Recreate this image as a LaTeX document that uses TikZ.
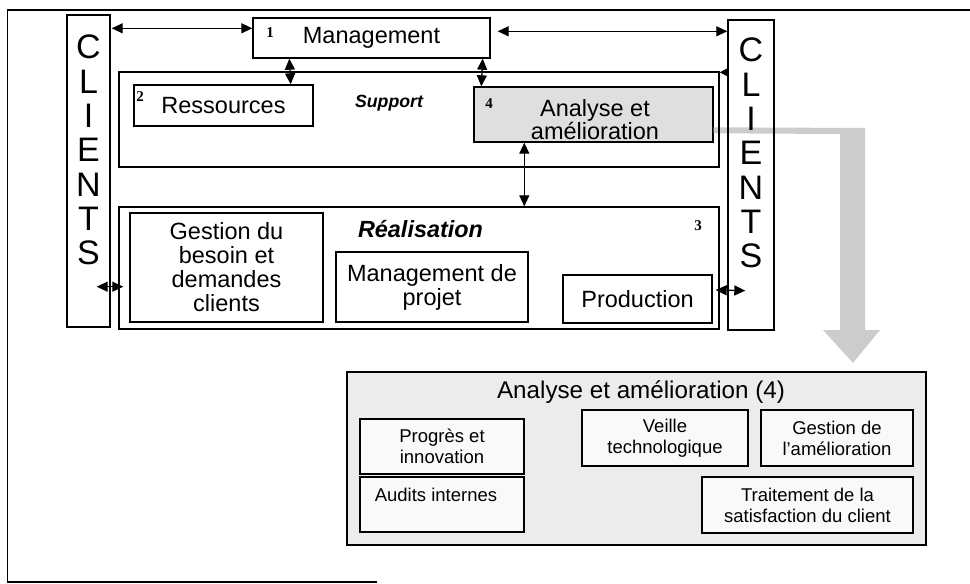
\documentclass[tikz,border=0pt]{standalone}
\usepackage{fontspec}
\setmainfont{Liberation Sans}
\newfontfamily\numfont{Liberation Serif}
\usetikzlibrary{arrows.meta,calc}
\begin{document}
\begin{tikzpicture}[x=1pt,y=-1pt,
  box/.style={draw,line width=1.4pt,inner sep=0pt,align=center},
  sz/.style 2 args={minimum width=#1pt,minimum height=#2pt},
  big/.style={font=\fontsize{23.5}{24}\selectfont},
  small/.style={font=\fontsize{18.5}{21}\selectfont},
  num/.style={font=\numfont\bfseries\fontsize{15}{15}\selectfont,inner sep=0pt},
  dbl/.style={line width=1.3pt,{Triangle[length=11pt,width=10pt]}-{Triangle[length=11pt,width=10pt]}},
  sgl/.style={line width=1.3pt,-{Triangle[length=9pt,width=9pt]}},
  letters/.style={font=\fontsize{34}{34.3}\selectfont,align=center,inner sep=0pt}
]
\useasboundingbox (0,0) rectangle (970,584);
% outer frame
\draw[line width=1.5pt] (377,582.2) -- (7.5,582.2) -- (7.5,10) -- (970,10);

% analysis box inside support (drawn first so the grey arrow starts at its edge)
\node[box,sz={239}{55},fill=gray!25] (ana) at (593.5,114.5) {};
% grey block arrow from analysis box to detail box
\fill[gray!40] ([yshift=-41pt]ana.north east) -- (865,128) -- (865,330) -- (880,330) -- (853,363)
  -- (823,330) -- (840,330) -- (840,134) -- ([yshift=-47pt]ana.north east) -- cycle;

\node[box,sz={43}{312}] (cl) at (88.5,171) {};
\node[letters] (cltxt) at (88.5,150) {C\\L\\I\\E\\N\\T\\S};
\node[box,sz={46}{310}] (cr) at (751,175) {};
\node[letters] (crtxt) at (751,153) {C\\L\\I\\E\\N\\T\\S};

\node[box,big,sz={237}{40}] (mgmt) at (371.5,38) {Management};
\node[num] (n1) at (270,33) {1};

\node[box,sz={600}{95}] (sup) at (419,119.5) {};
\node[font=\bfseries\itshape\fontsize{17.7}{18}\selectfont] (suptxt) at (389,103) {Support};
\node[box,big,sz={179}{41}] (res) at (223.5,105.5) {Ressources};
\node[num] (n2) at (140,97) {2};
\node[align=center,inner sep=0pt,font=\fontsize{23.5}{23}\selectfont] (anatxt) at (595,119.5) {Analyse et\\amélioration};
\node[num] (n4) at (489,104) {4};

\node[box,sz={600}{122}] (real) at (419,268) {};
\node[font=\bfseries\itshape\fontsize{23.4}{24}\selectfont] (realtxt) at (420.5,229) {Réalisation};
\node[num] (n3) at (698,226) {3};
\node[box,big,sz={193}{109}] (gest) at (226.5,267.5) {Gestion du\\besoin et\\demandes\\clients};
\node[box,big,sz={192}{70}] (mproj) at (432,287) {Management de\\projet};
\node[box,big,sz={149}{48}] (prod) at (637.5,299) {Production};

% detail box
\node[box,fill=gray!15,sz={579}{173}] (aa) at (636.5,458.5) {};
\node[font=\fontsize{24.2}{25}\selectfont,inner sep=0pt] (aatxt) at (641,392) {Analyse et amélioration (4)};
\node[box,small,fill=gray!5,sz={164}{55}] (prog) at (442,446.5) {Progrès et\\innovation};
\node[box,fill=gray!5,sz={164}{55}] (aud) at (442,504.5) {};
\node[small,inner sep=0pt] (audtxt) at (436,495) {Audits internes};
\node[box,small,fill=gray!5,sz={166}{56}] (veil) at (665,438) {Veille\\technologique};
\node[box,small,fill=gray!5,sz={152}{56}] (gam) at (837,438) {Gestion de\\l'amélioration};
\node[box,small,fill=gray!5,sz={211}{56}] (trait) at (807.5,505) {Traitement de la\\satisfaction du client};

% connectors
\draw[dbl] ([xshift=1pt,yshift=-14pt]cl.north east) -- ([yshift=-11pt]mgmt.north west);
\draw[dbl] ([xshift=7pt,yshift=-14pt]mgmt.north east) -- ([yshift=-12pt]cr.north west);
\draw[dbl] ([xshift=37pt]mgmt.south west) -- ([xshift=-23pt]res.north east);
\draw[dbl] ([xshift=-8pt]mgmt.south east) -- ([xshift=8pt]ana.north west);
\draw[dbl] ([xshift=51pt]ana.south west) -- ([xshift=406pt]real.north west);
\draw[sgl] ([yshift=-53pt]cr.north west) -- ([yshift=-1pt]sup.north east);
\draw[dbl] ([xshift=-14pt,yshift=41pt]cl.south east) -- ([xshift=5pt,yshift=43pt]real.south west);
\draw[dbl] ([xshift=3pt,yshift=9pt]prod.east) -- ([xshift=18pt,yshift=40pt]cr.south west);
\end{tikzpicture}
\end{document}
